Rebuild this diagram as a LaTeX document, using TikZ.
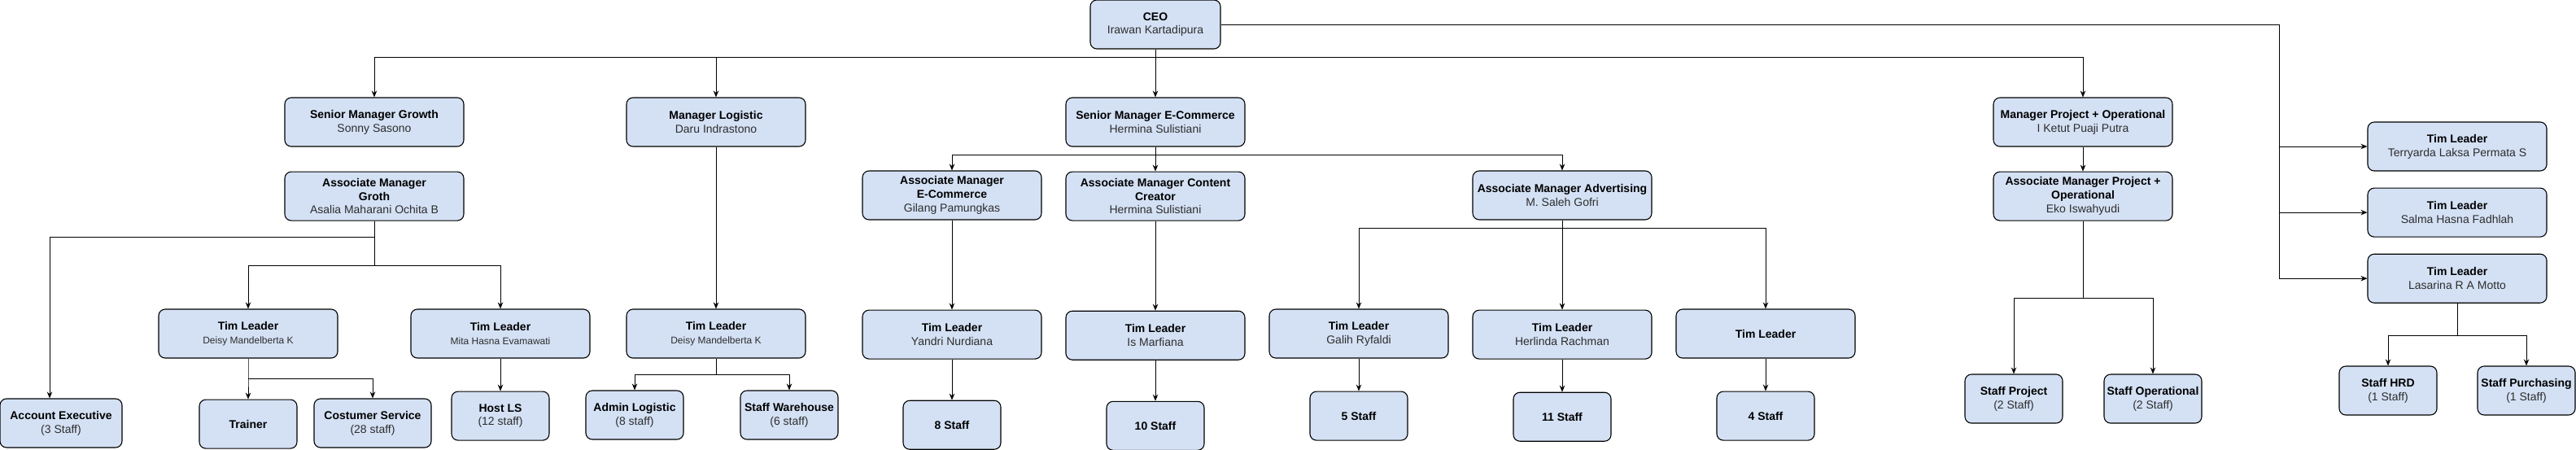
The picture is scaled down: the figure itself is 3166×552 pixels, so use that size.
\documentclass[tikz,border=0pt]{standalone}
\usepackage{fontspec}
\setmainfont{Liberation Sans}
\usepackage{xcolor}
\usepackage{tikz}
\usetikzlibrary{arrows.meta,positioning,calc}
\definecolor{boxblue}{RGB}{212,225,245}
\definecolor{namegray}{RGB}{45,45,45}
\newcommand{\who}[1]{\textcolor{namegray}{#1}}
\newcommand{\whosmall}[1]{{\fontsize{12}{14.4}\selectfont\textcolor{namegray}{#1}}}

\begin{document}
\begin{tikzpicture}[
  x=1pt, y=-1pt,
  unit/.style={draw, line width=1.1pt, rounded corners=8pt, fill=boxblue, align=center, inner sep=2pt, minimum height=60pt, font=\fontsize{14}{16.8}\selectfont},
  wide/.style={unit, minimum width=220pt},
  staff/.style={unit, minimum width=120pt},
  link/.style={line width=1pt},
  arr/.style={link, -{Stealth[length=8pt, width=6.5pt]}},
  thin/.style={line width=0.6pt},
  node distance=30pt
]

\useasboundingbox (0,0) rectangle (3166,552);

\node[unit, minimum width=160pt] (ceo) at (1420,30) {\textbf{CEO}\\\who{Irawan Kartadipura}};

\node[wide] (smg) at (460,150) {\textbf{Senior Manager Growth}\\\who{Sonny Sasono}};
\node[wide, below=of smg] (amg) {\textbf{Associate Manager}\\\textbf{Groth}\\\who{Asalia Maharani Ochita B}};
\node[wide] (ml) at (880,150) {\textbf{Manager Logistic}\\\who{Daru Indrastono}};
\node[wide] (sme) at (1420,150) {\textbf{Senior Manager E-Commerce}\\\who{Hermina Sulistiani}};
\node[wide] (amec) at (1170,240) {\textbf{Associate Manager}\\\textbf{E-Commerce}\\\who{Gilang Pamungkas}};
\node[wide, below=of sme] (amcc) {\textbf{Associate Manager Content}\\\textbf{Creator}\\\who{Hermina Sulistiani}};
\node[wide] (amad) at (1920,240) {\textbf{Associate Manager Advertising}\\\who{M. Saleh Gofri}};
\node[wide] (mpo) at (2560,150) {\textbf{Manager Project + Operational}\\\who{I Ketut Puaji Putra}};
\node[wide, below=of mpo] (ampo) {\textbf{Associate Manager Project +}\\\textbf{Operational}\\\who{Eko Iswahyudi}};

\node[wide] (tldg) at (305,410) {\textbf{Tim Leader}\\\whosmall{Deisy Mandelberta K}};
\node[wide] (tlmh) at (615,410) {\textbf{Tim Leader}\\\whosmall{Mita Hasna Evamawati}};
\node[wide] (tldl) at (880,410) {\textbf{Tim Leader}\\\whosmall{Deisy Mandelberta K}};
\node[wide, below=110pt of amec] (tlyn) {\textbf{Tim Leader}\\\who{Yandri Nurdiana}};
\node[wide, below=110pt of amcc] (tlim) {\textbf{Tim Leader}\\\who{Is Marfiana}};
\node[wide] (tlgr) at (1670,410) {\textbf{Tim Leader}\\\who{Galih Ryfaldi}};
\node[wide, below=110pt of amad] (tlhr) {\textbf{Tim Leader}\\\who{Herlinda Rachman}};
\node[wide] (tlx) at (2170,410) {\textbf{Tim Leader}};

\node[wide] (terry) at (3020,180) {\textbf{Tim Leader}\\\who{Terryarda Laksa Permata S}};
\node[wide, below=20pt of terry] (salma) {\textbf{Tim Leader}\\\who{Salma Hasna Fadhlah}};
\node[wide, below=20pt of salma] (lasa) {\textbf{Tim Leader}\\\who{Lasarina R A Motto}};

\node[unit, minimum width=150pt] (ae) at (75,520) {\textbf{Account Executive}\\\who{(3 Staff)}};
\node[staff, below=50pt of tldg] (trainer) {\textbf{Trainer}};
\node[unit, minimum width=144pt] (cs) at (458,520) {\textbf{Costumer Service}\\\who{(28 staff)}};
\node[staff, below=40pt of tlmh] (hostls) {\textbf{Host LS}\\\who{(12 staff)}};
\node[staff] (admin) at (780,510) {\textbf{Admin Logistic}\\\who{(8 staff)}};
\node[staff] (wh) at (970,510) {\textbf{Staff Warehouse}\\\who{(6 staff)}};
\node[staff, below=50pt of tlyn] (n8) {\textbf{8 Staff}};
\node[staff, below=50pt of tlim] (n10) {\textbf{10 Staff}};
\node[staff, below=40pt of tlgr] (n5) {\textbf{5 Staff}};
\node[staff, below=40pt of tlhr] (n11) {\textbf{11 Staff}};
\node[staff, below=40pt of tlx] (n4) {\textbf{4 Staff}};
\node[staff] (sproj) at (2475,490) {\textbf{Staff Project}\\\who{(2 Staff)}};
\node[staff] (sop) at (2646,490) {\textbf{Staff Operational}\\\who{(2 Staff)}};
\node[staff] (hrd) at (2935,480) {\textbf{Staff HRD}\\\who{(1 Staff)}};
\node[staff] (purch) at (3105,480) {\textbf{Staff Purchasing}\\\who{(1 Staff)}};

\coordinate (bus) at ($(ceo.south)+(0,10)$);
\draw[link] (ceo.south) -- (bus);
\draw[arr] (bus) -| (smg.north);
\draw[arr] (bus) -| (ml.north);
\draw[arr] (bus) -- (sme.north);
\draw[arr, thin] (bus) -| (mpo.north);

\coordinate (side) at (2801,30);
\draw[arr] (ceo.east) -- (side) |- (terry.west);
\draw[arr] (side) |- (salma.west);
\draw[arr] (side) |- (lasa.west);

\coordinate (amgj) at ($(amg.south)+(0,20)$);
\coordinate (amgb) at ($(amg.south)+(0,55)$);
\draw[arr] (amg.south) -- (amgj) -| ([xshift=-14pt]ae.north);
\draw[arr] (amgj) -- (amgb) -| (tldg.north);
\draw[arr] (amgb) -| (tlmh.north);

\coordinate (tldgj) at ($(tldg.south)+(0,25)$);
\draw[arr] (tldg.south) -- (tldgj) -| (trainer.north);
\draw[arr] (tldgj) -| (cs.north);
\draw[arr] (tlmh) -- (hostls);

\draw[arr, thin] (ml) -- (tldl);
\coordinate (tldlj) at ($(tldl.south)+(0,20)$);
\draw[thin] (tldl.south) -- (tldlj);
\draw[arr] (tldlj) -| (admin.north);
\draw[arr] (tldlj) -| (wh.north);

\coordinate (smej) at ($(sme.south)+(0,10)$);
\draw[arr] (sme) -- (amcc);
\draw[arr] (smej) -| (amec.north);
\draw[arr] (smej) -| (amad.north);
\draw[arr] (amec) -- (tlyn);
\draw[arr] (tlyn) -- (n8);
\draw[arr] (amcc) -- (tlim);
\draw[arr] (tlim) -- (n10);

\coordinate (amadj) at ($(amad.south)+(0,10)$);
\draw[arr, thin] (amad) -- (tlhr);
\draw[arr] (amadj) -| (tlgr.north);
\draw[arr] (amadj) -| (tlx.north);
\draw[arr] (tlgr) -- (n5);
\draw[arr, thin] (tlhr) -- (n11);
\draw[arr] (tlx) -- (n4);

\draw[arr, thin] (mpo) -- (ampo);
\coordinate (ampoj) at ($(ampo.south)+(0,95)$);
\draw[thin] (ampo.south) -- (ampoj);
\draw[arr] (ampoj) -| (sproj.north);
\draw[arr] (ampoj) -| (sop.north);

\coordinate (lasaj) at ($(lasa.south)+(0,40)$);
\draw[link] (lasa.south) -- (lasaj);
\draw[arr] (lasaj) -| (hrd.north);
\draw[arr] (lasaj) -| (purch.north);

\end{tikzpicture}
\end{document}
